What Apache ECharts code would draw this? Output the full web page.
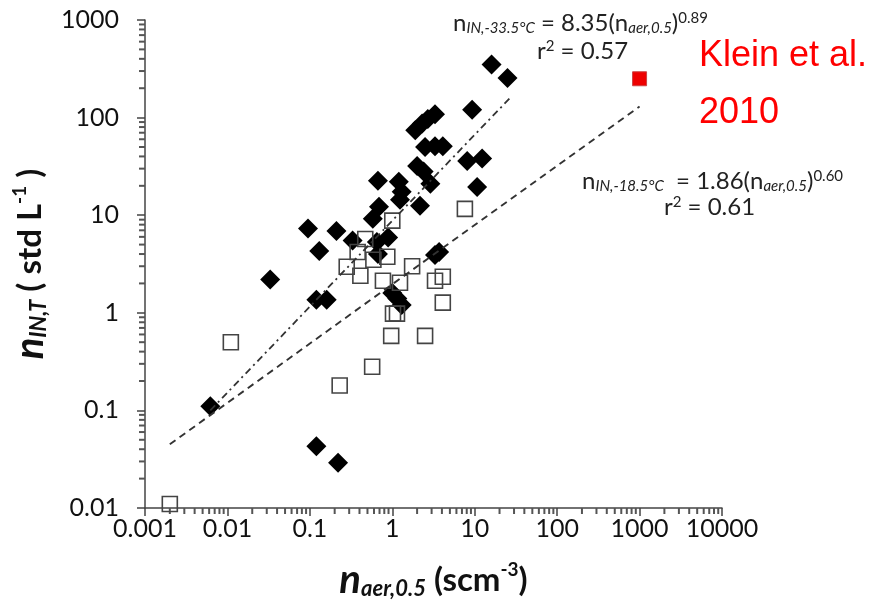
<!DOCTYPE html>
<html>
<head>
<meta charset="utf-8">
<script src="https://cdn.jsdelivr.net/npm/echarts@6/dist/echarts.min.js"></script>
<style>
  html, body { margin: 0; padding: 0; background: #fff; }
  #chart { width: 891px; height: 608px; }
</style>
</head>
<body>
<div id="chart"></div>
<script>
// filled diamonds (-33.5 C)
const diamonds = [
  [16, 350], [25, 255], [9.3, 120], [3.3, 108], [2.7, 97], [2.3, 87], [1.9, 74],
  [2.5, 50], [3.3, 51], [4.1, 51], [8.1, 36], [12.3, 38], [2.0, 32], [2.4, 28],
  [2.9, 21], [10.7, 19.5], [0.67, 22.5], [1.2, 22], [1.3, 17.4], [1.24, 14.4],
  [2.17, 12.5], [0.69, 12.2], [0.58, 9.2], [0.095, 7.3], [0.21, 6.9], [0.33, 5.5],
  [0.13, 4.3], [0.65, 5.3], [0.89, 5.9], [0.67, 4.0], [3.3, 3.9], [3.7, 4.2],
  [0.033, 2.2], [0.12, 1.36], [0.16, 1.36], [1.0, 1.6], [1.15, 1.4], [1.3, 1.2],
  [0.0062, 0.11], [0.12, 0.043], [0.22, 0.029]
];
// open squares (-18.5 C)
const squares = [
  [7.6, 11.6], [1.0, 8.8], [0.47, 5.7], [0.38, 4.2], [0.28, 2.96], [0.41, 2.4],
  [0.59, 3.5], [0.87, 3.75], [0.77, 2.13], [1.24, 2.03], [1.74, 3.0], [3.3, 2.13],
  [4.1, 2.34], [4.1, 1.27], [1.02, 0.98], [1.14, 0.98], [0.97, 0.58], [2.5, 0.58],
  [0.57, 0.28], [0.23, 0.18], [0.011, 0.5], [0.002, 0.011]
];
const klein = [[1000, 250]];
// fit lines, end points
const fit335 = [[0.0062, 0.1], [27, 160]];
const fit185 = [[0.002, 0.045], [1000, 130]];

const xTickLabels = ['0.001', '0.01', '0.1', '1', '10', '100', '1000', '10000'];
const yTickLabels = ['0.01', '0.1', '1', '10', '100', '1000'];
const xMin = 0.001, xMax = 10000, yMin = 0.01, yMax = 1000;

// log minor ticks 2..9 per decade
function minorTicks(lo, hi) {
  const out = [];
  for (let d = lo; d < hi * 0.999; d *= 10) {
    for (let k = 2; k <= 9; k++) out.push(d * k);
  }
  return out;
}
const minorX = minorTicks(xMin, xMax);
const minorY = minorTicks(yMin, yMax);

const FONT = 'Lato';
const axisColor = '#444';

const titleRich = {
  n: { fontSize: 40, fontWeight: 'bold', fontStyle: 'italic', fontFamily: FONT, color: '#111' },
  sub: { fontSize: 22, fontWeight: 'bold', fontStyle: 'italic', fontFamily: FONT, color: '#111', verticalAlign: 'bottom', padding: [18, 0, 0, 0] },
  t: { fontSize: 33, fontWeight: 'bold', fontFamily: FONT, color: '#111' },
  sup: { fontSize: 19, fontWeight: 'bold', fontFamily: FONT, color: '#111', verticalAlign: 'top', padding: [0, 0, 16, 0] }
};

function annoRich() {
  return {
    n: { fontSize: 24, fontFamily: FONT, fill: '#222' },
    sub: { fontSize: 15, fontStyle: 'italic', fontFamily: FONT, fill: '#222', verticalAlign: 'bottom', padding: [10, 0, 0, 0] },
    t: { fontSize: 24, fontFamily: FONT, fill: '#222' },
    sup: { fontSize: 15, fontFamily: FONT, fill: '#222', verticalAlign: 'top', padding: [0, 0, 10, 0] }
  };
}

const chart = echarts.init(document.getElementById('chart'));

chart.setOption({
  animation: false,
  grid: { left: 145, right: 169, top: 20, bottom: 100, outerBoundsMode: 'none' },
  xAxis: {
    type: 'log', min: xMin, max: xMax, splitNumber: 7,
    axisLine: { lineStyle: { color: axisColor, width: 1.5 } },
    axisTick: { length: 8, lineStyle: { color: axisColor, width: 1.5 } },
    splitLine: { show: false },
    axisLabel: {
      margin: 8, color: '#111', fontSize: 25, fontFamily: FONT,
      formatter: v => xTickLabels[Math.round(Math.log10(v)) + 3]
    },
    name: '{n|n}{sub|aer,0.5}{t| (scm}{sup|-3}{t|)}',
    nameLocation: 'middle', nameGap: 52,
    nameTextStyle: { rich: titleRich }
  },
  yAxis: {
    type: 'log', min: yMin, max: yMax, splitNumber: 5,
    axisLine: { lineStyle: { color: axisColor, width: 1.5 } },
    axisTick: { length: 8, lineStyle: { color: axisColor, width: 1.5 } },
    splitLine: { show: false },
    axisLabel: {
      margin: 26, color: '#111', fontSize: 25, fontFamily: FONT,
      formatter: v => yTickLabels[Math.round(Math.log10(v)) + 2]
    },
    name: '{n|n}{sub|IN,T}{t| ( std L}{sup|-1}{t| )}',
    nameLocation: 'middle', nameGap: 72, nameRotate: 90,
    nameTextStyle: { rich: titleRich }
  },
  graphic: [
    { type: 'text', left: 453, top: 11, silent: true,
      style: { text: '{n|n}{sub|IN,-33.5°C}{t| = 8.35(}{n|n}{sub|aer,0.5}{t|)}{sup|0.89}', rich: annoRich() } },
    { type: 'text', left: 537, top: 39, silent: true,
      style: { text: '{t|r}{sup|2}{t| = 0.57}', rich: annoRich() } },
    { type: 'text', left: 582, top: 169, silent: true,
      style: { text: '{n|n}{sub|IN,-18.5°C}{t|  = 1.86(}{n|n}{sub|aer,0.5}{t|)}{sup|0.60}', rich: annoRich() } },
    { type: 'text', left: 664, top: 195, silent: true,
      style: { text: '{t|r}{sup|2}{t| = 0.61}', rich: annoRich() } },
    { type: 'text', left: 699, top: 28, silent: true,
      style: { text: 'Klein et al.\n2010', fill: '#ff0000', fontSize: 36,
               fontFamily: 'Liberation Sans', lineHeight: 57 } }
  ],
  series: [
    {
      type: 'scatter', clip: false, data: minorX.map(v => [v, yMin]),
      symbol: 'rect', symbolSize: [2, 6], symbolOffset: [0, 3],
      itemStyle: { color: '#555', opacity: 1 }
    },
    {
      type: 'scatter', clip: false, data: minorY.map(v => [xMin, v]),
      symbol: 'rect', symbolSize: [6, 2], symbolOffset: [-3, 0],
      itemStyle: { color: '#555', opacity: 1 }
    },
    {
      type: 'line', data: fit335, symbol: 'none',
      lineStyle: { color: '#333', width: 1.8, type: [7, 4, 2, 4] }
    },
    {
      type: 'line', data: fit185, symbol: 'none',
      lineStyle: { color: '#333', width: 1.9, type: [7, 5] }
    },
    {
      type: 'scatter', data: diamonds, symbol: 'diamond', symbolSize: 20,
      itemStyle: { color: '#000', opacity: 1 }
    },
    {
      type: 'scatter', data: squares, symbol: 'rect', symbolSize: 15,
      itemStyle: { color: 'rgba(0,0,0,0)', borderColor: '#444', borderWidth: 1.6, opacity: 1 }
    },
    {
      type: 'scatter', data: klein, symbol: 'rect', symbolSize: 14,
      itemStyle: { color: '#ee0000', borderColor: '#cc4444', borderWidth: 1, opacity: 1 }
    }
  ]
});
</script>
</body>
</html>
